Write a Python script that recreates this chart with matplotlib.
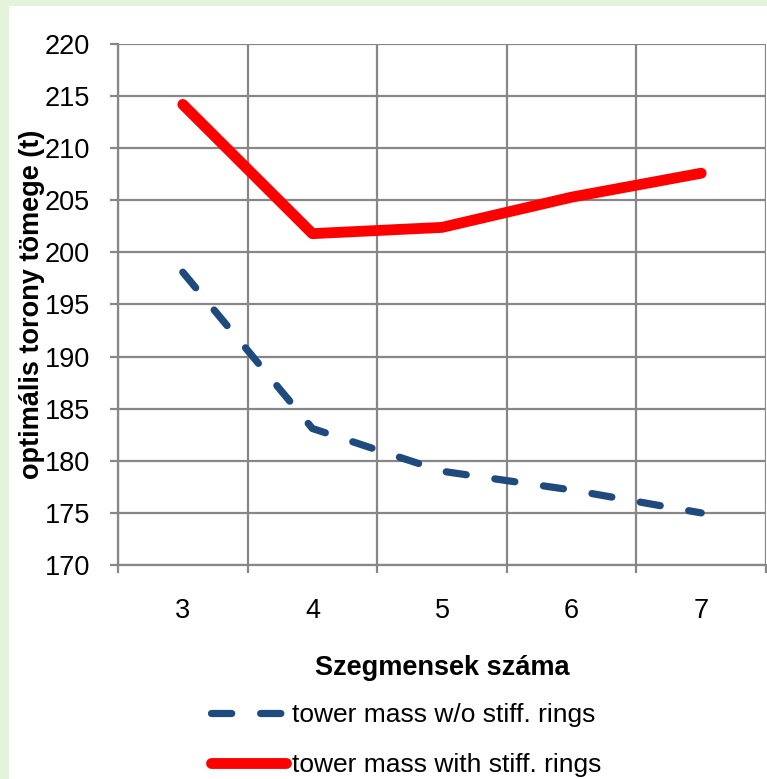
import matplotlib.pyplot as plt
from matplotlib.patches import Rectangle
from matplotlib.lines import Line2D

plt.rcParams["font.family"] = ["Liberation Sans", "DejaVu Sans"]

segments = [3, 4, 5, 6, 7]
mass_without_rings = [198.1, 183.1, 179.0, 177.2, 175.0]
mass_with_rings = [214.2, 201.8, 202.4, 205.3, 207.6]
y_ticks = [170, 175, 180, 185, 190, 195, 200, 205, 210, 215, 220]

grid_col = "#878787"
blue = "#1F4A7E"
red = "#FF0000"
dash_pat = (2.8, 4.0)

W, H = 767, 779
fig = plt.figure(figsize=(W / 100, H / 100), dpi=100)
fig.patch.set_facecolor("#E4F4DB")
fig.patches.append(Rectangle((9 / W, 0), 1, 1 - 6 / H, transform=fig.transFigure,
                             facecolor="white", edgecolor="none", zorder=-5))

ax = fig.add_axes([118 / W, 1 - 565 / H, (766 - 118) / W, (565 - 44) / H])
ax.set_facecolor("white")

ax.plot(segments, mass_without_rings, color=blue, lw=5.2, dashes=dash_pat,
        solid_capstyle="round", dash_capstyle="round", dash_joinstyle="round",
        zorder=3, label="tower mass w/o stiff. rings")
ax.plot(segments, mass_with_rings, color=red, lw=7.8, solid_capstyle="round",
        solid_joinstyle="round", zorder=3, label="tower mass with stiff. rings")

ax.set_xlim(2.5, 7.5)
ax.set_ylim(170, 220)
ax.set_yticks(y_ticks)
ax.set_xticks(segments)
ax.set_xticks([2.5, 3.5, 4.5, 5.5, 6.5, 7.5], minor=True)

ax.grid(True, which="major", axis="y", color=grid_col, lw=1.6)
ax.grid(True, which="minor", axis="x", color=grid_col, lw=1.6)
ax.set_axisbelow(True)

for side in ["top", "right", "bottom"]:
    ax.spines[side].set_visible(False)
ax.spines["left"].set_color(grid_col)
ax.spines["left"].set_linewidth(1.6)
ax.axhline(170, color=grid_col, lw=1.6, zorder=1, clip_on=False)

ax.tick_params(axis="y", which="major", length=6, width=1.6, color=grid_col,
               pad=14, labelsize=19.5)
ax.tick_params(axis="x", which="major", length=0, pad=24, labelsize=19.5)
ax.tick_params(axis="x", which="minor", length=6, width=1.6, color=grid_col)

ax.set_xlabel("Szegmensek száma", fontsize=19.5, fontweight="bold", labelpad=22)
ax.set_ylabel("optimális torony tömege (t)", fontsize=19.5, fontweight="bold")
ax.yaxis.set_label_coords(-73 / (766 - 118), 0.5)

handles = [
    Line2D([], [], color=blue, lw=5.2, dashes=dash_pat, dash_capstyle="round"),
    Line2D([], [], color=red, lw=7.8, solid_capstyle="round"),
]
fig.legend(handles, ["tower mass w/o stiff. rings", "tower mass with stiff. rings"],
           loc="center", bbox_to_anchor=(406 / W, 1 - 740 / H), frameon=False,
           fontsize=19, handlelength=2.85, handletextpad=0.2, labelspacing=0.98)

fig.savefig("out.png", dpi=100, facecolor=fig.get_facecolor())
